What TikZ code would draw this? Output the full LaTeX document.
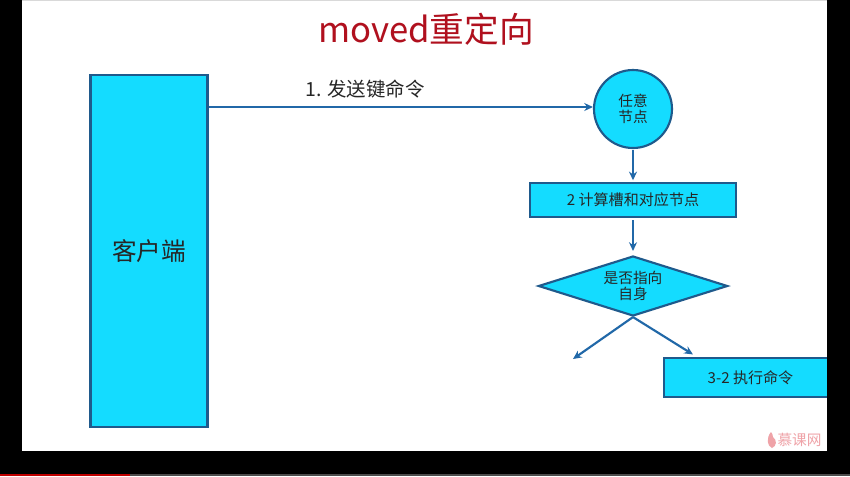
\documentclass[tikz,border=0pt]{standalone}
\usepackage{fontspec}
\setmainfont{Noto Sans CJK SC}
\usetikzlibrary{shapes.geometric,arrows.meta}
\definecolor{cyanfill}{HTML}{14DCFF}
\definecolor{edgeblue}{HTML}{1F5A8C}
\definecolor{linkblue}{HTML}{2168A8}
\definecolor{titlered}{HTML}{B0101E}
\definecolor{markpink}{HTML}{EFA3A8}
\tikzset{
  x=0.75pt,y=-0.75pt,
  boxshape/.style={draw=edgeblue,line width=1.6pt,fill=cyanfill,inner sep=0pt,align=center,text=black!85,font=\fontsize{11pt}{12pt}\selectfont},
  link/.style={draw=linkblue,line width=1.6pt,-{Stealth[length=6.5pt,width=6pt]}},
  band/.style={fill=black,draw=none}
}
\begin{document}
\begin{tikzpicture}
\useasboundingbox (0,0) rectangle (850,476);
\fill[white] (0,0) rectangle (850,476);
\fill[black!15] (22,0) rectangle (827,1);
% title
\node[text=titlered,font=\fontsize{26pt}{30pt}\selectfont,inner sep=0pt] (title) at (426,29) {moved重定向};
% shapes
\node[boxshape,minimum width=87.75pt,minimum height=264pt,font=\fontsize{18.5pt}{22pt}\selectfont] (client) at (149,251) {客户端};
\node[boxshape,circle,minimum size=58.5pt] (any) at (633,109) {任意\\节点};
\node[boxshape,minimum width=154pt,minimum height=25pt,font=\fontsize{11.3pt}{13pt}\selectfont] (calc) at (633,200) {2 计算槽和对应节点};
\node[boxshape,diamond,aspect=3.15,minimum width=142pt,minimum height=45pt] (self) at (633,286) {是否指向\\自身};
\node[boxshape,minimum width=129.75pt,minimum height=29pt,font=\fontsize{11.3pt}{13pt}\selectfont] (exec) at (750.5,377.5) {3-2 执行命令};
\coordinate (free) at (573,359);
\coordinate (anyin) at ([yshift=1.5pt]any.west);
\coordinate (clientout) at (client.east|-anyin);
% connectors
\draw[link] (clientout) -- (anyin);
\node[text=black!85,font=\fontsize{14.6pt}{17pt}\selectfont,inner sep=0pt] (send) at (365,89) {1. 发送键命令};
\draw[link] ([yshift=-0.75pt]any.south) -- ([yshift=1.5pt]calc.north);
\draw[link] ([yshift=-2pt]calc.south) -- ([yshift=3pt]self.north);
\draw[link] (self.south) -- (free);
\draw[link] (self.south) -- ([xshift=22.5pt,yshift=2pt]exec.north west);
% black frame
\fill[band] (0,0) rectangle (22,476);
\fill[band] (827,0) rectangle (850,476);
\fill[band] (0,451) rectangle (850,476);
\fill[black!70] (0,474) rectangle (850,476);
\fill[red!75!black] (0,474) rectangle (130,476);
% watermark
\fill[markpink] (771,432) .. controls (766,438) and (767,446) .. (772,448) .. controls (777,446) and (777,440) .. (773,437) .. controls (773,435) and (772,433) .. (771,432);
\node[text=markpink,font=\fontsize{11pt}{12pt}\selectfont,inner sep=0pt] (mark) at (799.5,440) {慕课网};
\end{tikzpicture}
\end{document}
